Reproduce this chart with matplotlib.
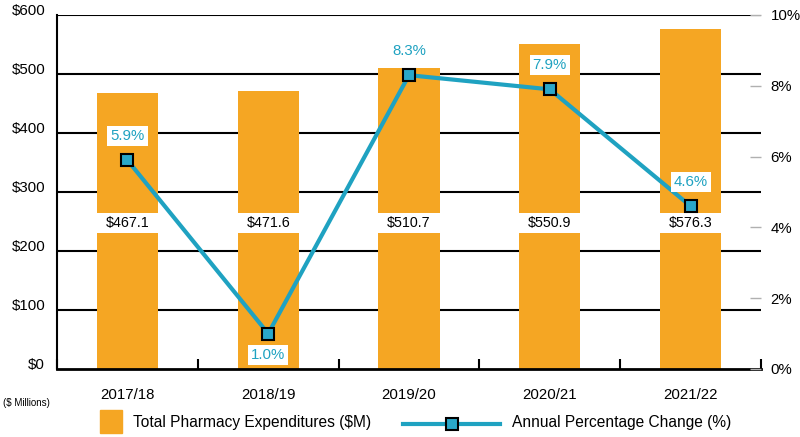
import matplotlib
matplotlib.use("Agg")
import matplotlib.pyplot as plt
from matplotlib.patches import Rectangle
from matplotlib.lines import Line2D
import numpy as np

categories = ["2017/18", "2018/19", "2019/20", "2020/21", "2021/22"]
expenditures = [467.1, 471.6, 510.7, 550.9, 576.3]
pct_change = [5.9, 1.0, 8.3, 7.9, 4.6]
left_ticks = [0, 100, 200, 300, 400, 500, 600]
right_ticks = [0, 2, 4, 6, 8, 10]
legend_bar = "Total Pharmacy Expenditures ($M)"
legend_line = "Annual Percentage Change (%)"
units_note = "($ Millions)"

ORANGE = "#F5A623"
TEAL = "#1FA2C1"
MARK = "#2AA8C9"
FS = 10.8

plt.rcParams['font.family'] = ['Liberation Sans', 'DejaVu Sans']

fig = plt.figure(figsize=(8, 4.37), dpi=100)
ax = fig.add_axes([57/800, 1-369/437, 704/800, 354/437])
x = np.arange(len(categories))

ax.set_xlim(-0.5, len(categories)-0.5)
ax.set_ylim(0, 600)
for v in left_ticks[1:]:
    ax.axhline(v, color="black", lw=1.5, zorder=1)
ax.bar(x, expenditures, width=0.435, color=ORANGE, zorder=2)
# white band holding the value labels
band_lo, band_hi = 231, 265
ax.bar(x, [band_hi-band_lo]*len(x), bottom=band_lo, width=0.445, color="white", zorder=3)
for xi, v in zip(x, expenditures):
    ax.text(xi, (band_lo+band_hi)/2, f"${v:.1f}", ha="center", va="center", fontsize=10.3, color="black", zorder=4)

ax.set_yticks(left_ticks)
ax.set_yticklabels([f"${v}" for v in left_ticks], fontsize=FS)
for lbl in ax.get_yticklabels():
    lbl.set_verticalalignment("baseline")
ax.tick_params(axis="y", length=0, pad=8.5)
ax.set_xticks(x)
ax.set_xticklabels(categories, fontsize=FS)
ax.tick_params(axis="x", length=0, pad=14)
ax.set_xticks(np.arange(-0.5, len(categories)), minor=True)
ax.tick_params(axis="x", which="minor", direction="in", length=7, width=1.5, color="black")
for s in ["top", "right"]:
    ax.spines[s].set_visible(False)
ax.spines["left"].set_linewidth(1.5)
ax.spines["bottom"].set_linewidth(2)

ax2 = ax.twinx()
ax2.set_ylim(0, 10)
ax2.plot(x, pct_change, color=TEAL, lw=3, marker="s", markersize=8.5,
         markerfacecolor=MARK, markeredgecolor="black", markeredgewidth=1.5, zorder=5)
for xi, p in zip(x, pct_change):
    dy = -21 if p < 2 else 24
    ax2.annotate(f"{p:.1f}%", (xi, p), xytext=(0, dy), textcoords="offset pixels",
                 ha="center", va="center", fontsize=FS, color=TEAL,
                 bbox=dict(boxstyle="square,pad=0.2", fc="white", ec="none"), zorder=6)
ax2.set_yticks(right_ticks)
ax2.set_yticklabels([f"{v}%" for v in right_ticks], fontsize=FS)
ax2.tick_params(axis="y", direction="in", length=8, width=1, color="#b0b0b0", pad=7)
for s in ["top", "right", "left", "bottom"]:
    ax2.spines[s].set_visible(False)

# units note
fig.text(3/800, 1-403/437, units_note, fontsize=7, ha="left", va="center")

# legend drawn manually
fig.add_artist(Rectangle((100/800, 1-433/437), 22/800, 23/437, transform=fig.transFigure, color=ORANGE))
fig.text(133/800, 1-423/437, legend_bar, fontsize=11.2, ha="left", va="center")
fig.add_artist(Line2D([403/800, 500/800], [1-424/437]*2, transform=fig.transFigure, color=TEAL, lw=3))
fig.add_artist(Line2D([452/800], [1-424/437], transform=fig.transFigure, marker="s", markersize=8.5,
                      markerfacecolor=MARK, markeredgecolor="black", markeredgewidth=1.5))
fig.text(512/800, 1-423/437, legend_line, fontsize=11.2, ha="left", va="center")

fig.savefig("out.png", dpi=100)
